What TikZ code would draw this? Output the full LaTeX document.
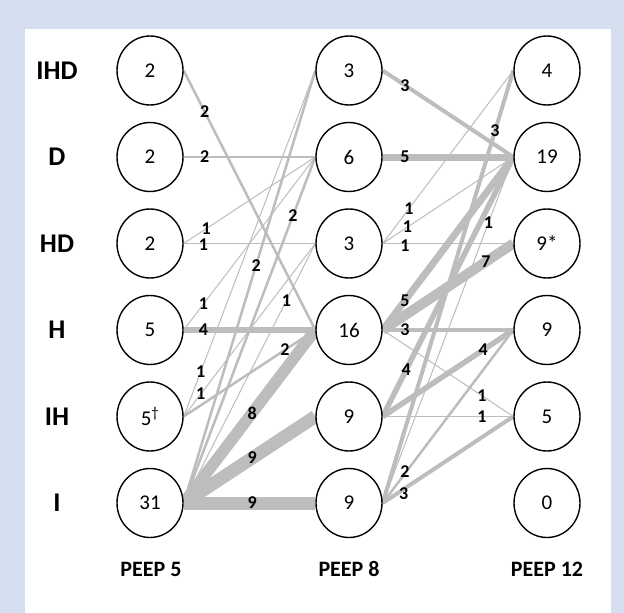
\documentclass[tikz,border=0pt]{standalone}
\usepackage{fontspec}
\setmainfont{Carlito}
\usetikzlibrary{shapes.geometric}
\pgfdeclarelayer{frame}
\pgfdeclarelayer{edges}
\pgfsetlayers{frame,edges,main}
\definecolor{framecol}{HTML}{D6DFEF}
\definecolor{edgecol}{HTML}{BDBDBD}
\newcommand\fl[5][]{%
  \begin{pgfonlayer}{edges}\draw[flow=#2] (#3.east) -- (#4.west);\end{pgfonlayer}%
  \path (#3.east) -- node[elab,pos=#5,#1]{#2} (#4.west);}
\begin{document}
\begin{tikzpicture}[x=1pt,y=-1pt,
  state/.style={ellipse, draw=black, line width=1.4pt, fill=white,
    minimum width=66pt, minimum height=69pt, inner sep=0pt,
    font=\fontsize{21}{25}\selectfont},
  rowlab/.style={font=\fontsize{27}{32}\selectfont\bfseries},
  peeplab/.style={font=\fontsize{22}{26}\selectfont\bfseries, anchor=base},
  flow/.style={draw=edgecol, line width={(1.5*#1-0.5)*1pt}},
  elab/.style={font=\fontsize{18}{20}\selectfont\bfseries, inner sep=0pt}]
\useasboundingbox (0,0) rectangle (624,613);
\begin{pgfonlayer}{frame}
  \fill[framecol] (0,0) rectangle (624,613);
  \fill[white] (25,29) rectangle (611,613);
\end{pgfonlayer}
% row labels
\node[rowlab] (rIHD) at (57,70.5) {IHD};
\node[rowlab] (rD) at (57,157) {D};
\node[rowlab] (rHD) at (57,243.5) {HD};
\node[rowlab] (rH) at (57,330) {H};
\node[rowlab] (rIH) at (57,416.5) {IH};
\node[rowlab] (rI) at (57,503) {I};
% PEEP 5
\node[state] (a1) at (150,70.5) {2};
\node[state] (a2) at (150,157) {2};
\node[state] (a3) at (150,243.5) {2};
\node[state] (a4) at (150,330) {5};
\node[state] (a5) at (150,416.5) {5\textsuperscript{†}};
\node[state] (a6) at (150,503) {31};
% PEEP 8
\node[state] (b1) at (349,70.5) {3};
\node[state] (b2) at (349,157) {6};
\node[state] (b3) at (349,243.5) {3};
\node[state] (b4) at (349,330) {16};
\node[state] (b5) at (349,416.5) {9};
\node[state] (b6) at (349,503) {9};
% PEEP 12
\node[state] (c1) at (547,70.5) {4};
\node[state] (c2) at (547,157) {19};
\node[state] (c3) at (547,243.5) {9*};
\node[state] (c4) at (547,330) {9};
\node[state] (c5) at (547,416.5) {5};
\node[state] (c6) at (547,503) {0};
% column labels
\node[peeplab] (p5) at (151,576) {PEEP 5};
\node[peeplab] (p8) at (349,576) {PEEP 8};
\node[peeplab] (p12) at (547,576) {PEEP 12};
% PEEP 5 -> PEEP 8
\fl{2}{a1}{b4}{0.16}
\fl{2}{a2}{b2}{0.16}
\fl{1}{a3}{b2}{0.17}
\fl[yshift=-1pt]{1}{a3}{b3}{0.15}
\fl{1}{a4}{b2}{0.15}
\fl{4}{a4}{b4}{0.15}
\fl{1}{a5}{b1}{0.13}
\fl{1}{a5}{b3}{0.13}
\fl{2}{a5}{b4}{0.77}
\fl{2}{a6}{b1}{0.55}
\fl{2}{a6}{b2}{0.83}
\fl{1}{a6}{b3}{0.78}
\fl{8}{a6}{b4}{0.52}
\fl{9}{a6}{b5}{0.52}
\fl{9}{a6}{b6}{0.52}
% PEEP 8 -> PEEP 12
\fl{3}{b1}{c2}{0.17}
\fl{5}{b2}{c2}{0.17}
\fl{1}{b3}{c1}{0.2}
\fl{1}{b3}{c2}{0.19}
\fl[yshift=-2pt]{1}{b3}{c3}{0.17}
\fl{5}{b4}{c2}{0.17}
\fl{7}{b4}{c3}{0.79}
\fl{3}{b4}{c4}{0.17}
\fl{1}{b4}{c5}{0.76}
\fl{4}{b5}{c2}{0.18}
\fl{4}{b5}{c4}{0.77}
\fl{1}{b5}{c5}{0.76}
\fl{3}{b6}{c1}{0.86}
\fl{1}{b6}{c2}{0.81}
\fl[yshift=2pt]{2}{b6}{c4}{0.17}
\fl[yshift=-4pt]{3}{b6}{c5}{0.16}
\end{tikzpicture}
\end{document}
